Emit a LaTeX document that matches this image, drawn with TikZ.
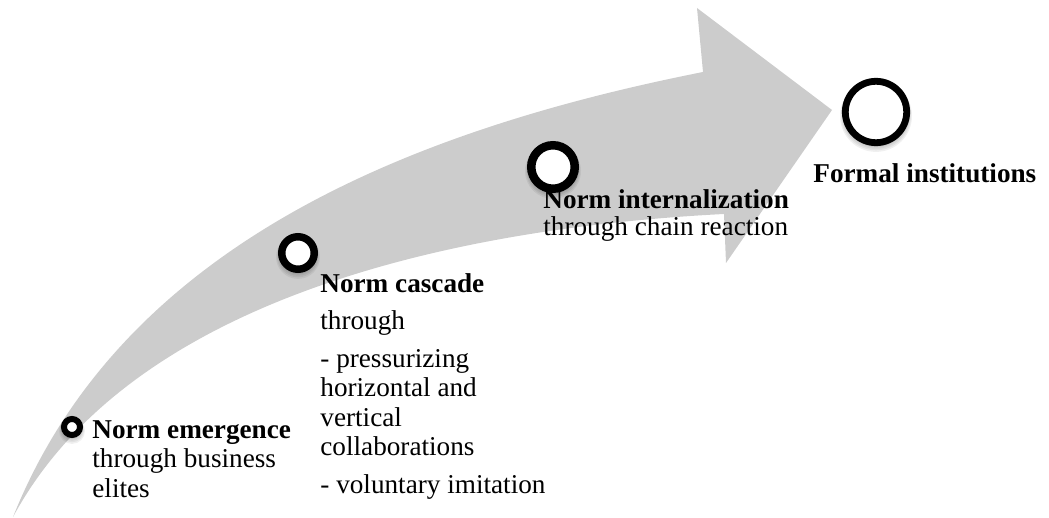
\documentclass[tikz,border=0pt]{standalone}
\usepackage{fontspec}
\setmainfont{Liberation Serif}
\definecolor{arrowgray}{RGB}{204,204,204}
\newcommand{\firstline}{\rule{0pt}{10pt}}
\begin{document}
\begin{tikzpicture}[x=0.5pt,y=-0.5pt,
  ring/.style={circle, draw=black, fill=white, inner sep=0pt},
  stagelabel/.style={anchor=north west, inner sep=0pt, align=left,
    font=\fontsize{13.6}{14.75}\selectfont},
  softshadow/.pic={
    \foreach \k in {1,...,4}
      \fill[black, opacity=0.06] (0,1.5+\k*0.6) circle[radius=#1-1pt+\k*0.5];
  }]
\useasboundingbox (0,0) rectangle (1049,518);

% curved grey arrow
\fill[arrowgray] (13,517)
  .. controls (120,250) and (400,132) .. (703,72)
  -- (697,8) -- (832,110) -- (726,263) -- (724,214)
  .. controls (450,228) and (130,300) .. (13,517) -- cycle;

% soft shadows below the stage markers
\pic at (72,427) {softshadow={5.5pt}};
\pic at (298,253) {softshadow={10pt}};
\pic at (553,167) {softshadow={13pt}};
\pic at (876,112) {softshadow={17pt}};

% stage markers
\node[ring, minimum size=8pt, line width=3pt] (c1) at (72,427) {};
\node[ring, minimum size=16.25pt, line width=3.75pt] (c2) at (298,253) {};
\node[ring, minimum size=21.75pt, line width=4.25pt] (c3) at (553,167) {};
\node[ring, minimum size=30.7pt, line width=3.4pt] (c4) at (876,112) {};

% stage labels (first baseline sits 20 units below the anchor)
\node[stagelabel] (t1) at (92,418)
  {\firstline\textbf{Norm emergence}\\through business\\elites};
\node[stagelabel] (t2) at (320,272)
  {\firstline\textbf{Norm cascade}\\[4pt]through\\[4pt]- pressurizing\\horizontal and\\vertical\\collaborations\\[4pt]- voluntary imitation};
\node[stagelabel] (t3) at (543,188)
  {\firstline\textbf{Norm internalization}\\[-1.25pt]through chain reaction};
\node[stagelabel] (t4) at (813,162)
  {\firstline\textbf{Formal institutions}};
\end{tikzpicture}
\end{document}
